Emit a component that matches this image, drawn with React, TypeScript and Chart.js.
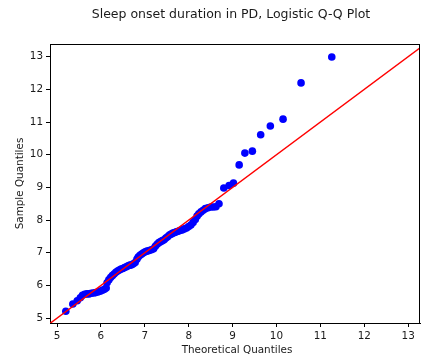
import React, { useEffect, useRef } from "react";
import { Chart, registerables } from "chart.js";

Chart.register(...registerables);

// Theoretical (logistic) quantiles and the matching sorted sample values
const theoreticalQuantiles = [
  5.2, 5.36, 5.46, 5.53, 5.58, 5.63, 5.68, 5.73, 5.78, 5.83, 5.88, 5.93, 5.98, 6.03, 6.08,
  6.12, 6.14, 6.18, 6.22, 6.26, 6.3, 6.34, 6.38, 6.42, 6.46, 6.5, 6.54, 6.58, 6.62, 6.66,
  6.7, 6.74, 6.78, 6.82, 6.85, 6.89, 6.93, 6.97, 7.01, 7.05, 7.1, 7.15, 7.2, 7.24, 7.28,
  7.32, 7.36, 7.4, 7.44, 7.48, 7.52, 7.56, 7.6, 7.64, 7.68, 7.72, 7.76, 7.8, 7.85, 7.9,
  7.95, 8.0, 8.05, 8.1, 8.15, 8.19, 8.23, 8.28, 8.33, 8.38, 8.44, 8.5, 8.56, 8.62, 8.69,
  8.8, 8.92, 9.02, 9.15, 9.28, 9.45, 9.64, 9.86, 10.15, 10.56, 11.26,
];
const sampleQuantiles = [
  5.21, 5.43, 5.53, 5.62, 5.7, 5.73, 5.74, 5.74, 5.76, 5.77, 5.78, 5.8, 5.82, 5.85, 5.88,
  5.92, 6.08, 6.17, 6.24, 6.3, 6.35, 6.4, 6.44, 6.47, 6.5, 6.52, 6.55, 6.57, 6.6, 6.62,
  6.63, 6.66, 6.7, 6.8, 6.87, 6.92, 6.96, 7.0, 7.03, 7.05, 7.07, 7.09, 7.12, 7.2, 7.26,
  7.31, 7.34, 7.37, 7.4, 7.45, 7.49, 7.54, 7.57, 7.6, 7.62, 7.64, 7.66, 7.68, 7.7, 7.73,
  7.76, 7.8, 7.85, 7.93, 8.02, 8.12, 8.19, 8.25, 8.3, 8.35, 8.38, 8.4, 8.4, 8.41, 8.5,
  8.98, 9.06, 9.13, 9.69, 10.05, 10.11, 10.61, 10.88, 11.09, 12.2, 12.99,
];

// 45-degree reference line end points (clipped to the plot area)
const referenceLine = [4, 14];

const xTicks = [5, 6, 7, 8, 9, 10, 11, 12, 13];
const yTicks = [5, 6, 7, 8, 9, 10, 11, 12, 13];

const X_RANGE = [4.84, 13.27];
const Y_RANGE = [4.85, 13.39];

const TITLE = "Sleep onset duration in PD, Logistic Q-Q Plot";
const X_LABEL = "Theoretical Quantiles";
const Y_LABEL = "Sample Quantiles";

const FONT = "DejaVu Sans";
const TEXT_COLOR = "#1a1a1a";

const framePlugin = {
  id: "frameAndLabels",
  afterDraw(chart: any) {
    const { ctx, chartArea } = chart;
    const { left, right, top, bottom } = chartArea;
    ctx.save();
    ctx.strokeStyle = "#000";
    ctx.lineWidth = 1;
    ctx.beginPath();
    ctx.moveTo(left, top + 0.5);
    ctx.lineTo(right, top + 0.5);
    ctx.moveTo(right - 0.5, top);
    ctx.lineTo(right - 0.5, bottom);
    ctx.stroke();

    ctx.fillStyle = TEXT_COLOR;
    ctx.textAlign = "center";
    ctx.textBaseline = "middle";
    ctx.font = `12.5px ${FONT}`;
    ctx.fillText(TITLE, 231, 15);

    ctx.font = `10.4px ${FONT}`;
    ctx.fillText(X_LABEL, 237, 350);

    ctx.translate(20, (top + bottom) / 2);
    ctx.rotate(-Math.PI / 2);
    ctx.fillText(Y_LABEL, 0, 0);
    ctx.restore();
  },
};

export default function App() {
  const canvasRef = useRef<HTMLCanvasElement | null>(null);

  useEffect(() => {
    if (!canvasRef.current) return;
    const points = theoreticalQuantiles.map((x, i) => ({ x, y: sampleQuantiles[i] }));
    const line = referenceLine.map((v) => ({ x: v, y: v }));

    const tickFont = { family: FONT, size: 10.4 };

    const chart = new Chart(canvasRef.current, {
      type: "scatter",
      data: {
        datasets: [
          {
            type: "line",
            data: line,
            borderColor: "#ff0000",
            borderWidth: 1.5,
            pointRadius: 0,
            fill: false,
            order: 0,
          },
          {
            type: "scatter",
            data: points,
            backgroundColor: "#0000ff",
            borderWidth: 0,
            pointRadius: 3.8,
            order: 1,
          },
        ],
      },
      options: {
        responsive: false,
        animation: false,
        devicePixelRatio: 1,
        layout: { autoPadding: false, padding: { top: 44, right: 1, left: 0, bottom: 0 } },
        plugins: {
          legend: { display: false },
          tooltip: { enabled: false },
          title: { display: false },
        },
        scales: {
          x: {
            type: "linear",
            min: X_RANGE[0],
            max: X_RANGE[1],
            afterFit: (scale: any) => {
              scale.height = 37;
              scale.paddingLeft = 0;
              scale.paddingRight = 0;
            },
            afterBuildTicks: (scale: any) => {
              scale.ticks = xTicks.map((value) => ({ value }));
            },
            grid: {
              drawOnChartArea: false,
              drawTicks: true,
              tickLength: 4,
              color: "#000",
            },
            border: { display: true, color: "#000", width: 1 },
            ticks: {
              font: tickFont,
              color: TEXT_COLOR,
              padding: 3,
              maxRotation: 0,
              callback: (v: any) => String(v),
            },
          },
          y: {
            type: "linear",
            min: Y_RANGE[0],
            max: Y_RANGE[1],
            afterFit: (scale: any) => {
              scale.width = 50;
              scale.paddingTop = 0;
              scale.paddingBottom = 0;
            },
            afterBuildTicks: (scale: any) => {
              scale.ticks = yTicks.map((value) => ({ value }));
            },
            grid: {
              drawOnChartArea: false,
              drawTicks: true,
              tickLength: 4,
              color: "#000",
            },
            border: { display: true, color: "#000", width: 1 },
            ticks: {
              font: tickFont,
              color: TEXT_COLOR,
              padding: 3,
              callback: (v: any) => String(v),
            },
          },
        },
      },
      plugins: [framePlugin],
    });

    return () => chart.destroy();
  }, []);

  return (
    <div style={{ position: "absolute", left: 0, top: 0, width: 421, height: 360, background: "#fff" }}>
      <canvas ref={canvasRef} width={421} height={360} />
    </div>
  );
}
